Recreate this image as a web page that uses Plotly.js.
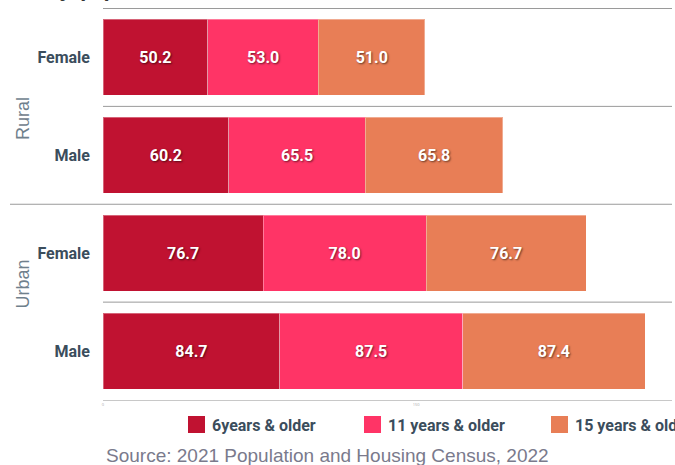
<!DOCTYPE html>
<html><head><meta charset="utf-8">
<script src="https://cdn.plot.ly/plotly-3.0.1.min.js"></script>
<style>html,body{margin:0;padding:0;background:#fff}#chart{width:675px;height:465px}</style>
</head><body><div id="chart"></div><script>
const areas = ['Rural','Rural','Urban','Urban'];
const sexes = ['Female','Male','Female','Male'];
const seriesNames = ['6years & older','11 years & older','15 years & older'];
const age6 = [50.2, 60.2, 76.7, 84.7];
const age11 = [53.0, 65.5, 78.0, 87.5];
const age15 = [51.0, 65.8, 76.7, 87.4];
const xTicks = [0, 150];
const groupLabels = ['Rural','Urban'];

const colors = ['#c01231','#ff3466','#e87e56'];
const cats = areas.map((a,i)=>a+' '+sexes[i]);
const BOLDF = 'Roboto, "Liberation Sans", Arial, sans-serif';
const REGF = '"Liberation Sans", Arial, sans-serif';

// figure geometry (pixels)
const W = 675, H = 465, ML = 103, MR = 3, MT = 8, MB = 65;
const PW = W - ML - MR, PH = H - MT - MB;
const px = p => (p - ML) / PW;
const py = p => (H - MB - p) / PH;

const traces = [age6, age11, age15].map((vals,k)=>({
  type:'bar', orientation:'h', x: vals, y: cats, name: seriesNames[k],
  marker:{color: colors[k], line:{color:'rgba(255,255,255,0.35)', width:1}},
  texttemplate:'%{x:.1f}', textposition:'inside', insidetextanchor:'middle',
  textfont:{family:BOLDF, size:16, color:'#ffffff', weight:700, shadow:'1px 1px 2px rgba(0,0,0,0.55)'},
  showlegend:false, hoverinfo:'skip'
}));

const lineC = '#9a9a9a';
const shapes = [
  {type:'line', xref:'paper', yref:'y', x0:0, x1:1, y0:-0.5, y1:-0.5, line:{color:lineC, width:1}},
  {type:'line', xref:'paper', yref:'y', x0:0, x1:1, y0:0.5, y1:0.5, line:{color:lineC, width:1}},
  {type:'line', xref:'paper', yref:'y', x0:px(10), x1:1, y0:1.5, y1:1.5, line:{color:lineC, width:1}},
  {type:'line', xref:'paper', yref:'y', x0:0, x1:1, y0:2.5, y1:2.5, line:{color:lineC, width:1}}
];

const annotations = [
  {text: groupLabels[0], xref:'paper', yref:'y', x:px(23), y:0.63, xanchor:'center', yanchor:'middle', textangle:-90, showarrow:false,
   font:{family:REGF, size:18, color:'#6f808c'}},
  {text: groupLabels[1], xref:'paper', yref:'y', x:px(23), y:2.32, xanchor:'center', yanchor:'middle', textangle:-90, showarrow:false,
   font:{family:REGF, size:18, color:'#6f808c'}},
  {text:'Source: 2021 Population and Housing Census, 2022', xref:'paper', yref:'paper', x:px(104), y:py(455),
   xanchor:'left', yanchor:'middle', showarrow:false,
   font:{family:REGF, size:19, color:'#7a7a8c'}},
  {text:'Literacy Rate by Sex and Locality (%)', xref:'paper', yref:'paper', x:px(86), y:1, xanchor:'right', yanchor:'bottom', xshift:28, yshift:5, showarrow:false,
   font:{family:REGF, size:22, color:'#333', weight:700}}
];

// manual legend (reference legend runs past the right edge)
const legSwatchX = [188, 364, 551];
const legTextX = [212, 388, 575];
seriesNames.forEach((nm,k)=>{
  shapes.push({type:'rect', xref:'paper', yref:'paper', x0:px(legSwatchX[k]), x1:px(legSwatchX[k]+17),
    y0:py(433), y1:py(416), fillcolor:colors[k], line:{width:0}});
  annotations.push({text:nm, xref:'paper', yref:'paper', x:px(legTextX[k]), y:py(425), xanchor:'left', yanchor:'middle',
    xshift:-2, showarrow:false, font:{family:BOLDF, size:16, color:'#3b4d5c', weight:700}});
});

const layout = {
  width:W, height:H,
  margin:{l:ML, r:MR, t:MT, b:MB},
  paper_bgcolor:'#ffffff', plot_bgcolor:'#ffffff',
  barmode:'stack', bargap:0.224,
  showlegend:false,
  xaxis:{range:[0,272.5], tickmode:'array', tickvals:xTicks, tickfont:{size:4, color:'#aaaaaa'},
    showgrid:false, zeroline:false, showline:true, linecolor:'#c8c8c8', linewidth:1, ticks:'', fixedrange:true},
  yaxis:{type:'category', autorange:'reversed', tickmode:'array', tickvals:cats, ticktext:sexes,
    tickfont:{family:BOLDF, size:16, color:'#3b4d5c', weight:700},
    showgrid:false, zeroline:false, showline:false, ticks:'', ticklabelstandoff:12, fixedrange:true},
  shapes: shapes,
  annotations: annotations
};

Plotly.newPlot('chart', traces, layout, {displayModeBar:false, staticPlot:true});
</script></body></html>
